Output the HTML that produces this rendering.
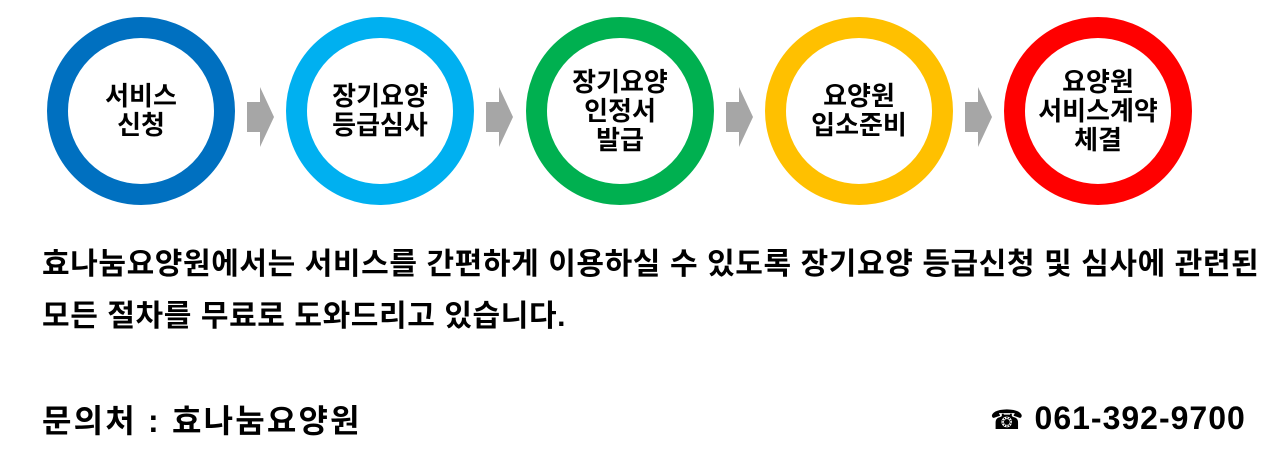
<!DOCTYPE html>
<html><head><meta charset="utf-8"><style>
body{margin:0;width:1286px;height:471px;background:#fff;position:relative;overflow:hidden;font-family:"Liberation Sans","Noto Sans CJK KR",sans-serif;font-weight:bold;color:#000}
.c{position:absolute;top:17px;width:146px;height:146px;border:21px solid;border-radius:50%;display:flex;align-items:center;justify-content:center;text-align:center;font-size:26px;line-height:29px;box-sizing:content-box}
.a{position:absolute;top:87px;width:27px;height:60px}
.t{position:absolute;left:42px;font-size:30px;letter-spacing:0.6px;white-space:nowrap;line-height:36px}
</style></head><body>
<div class="c" style="left:47px;border-color:#0070c0">서비스<br>신청</div>
<div class="c" style="left:286px;border-color:#00b0f0">장기요양<br>등급심사</div>
<div class="c" style="left:526px;border-color:#00b050">장기요양<br>인정서<br>발급</div>
<div class="c" style="left:765px;border-color:#ffc000">요양원<br>입소준비</div>
<div class="c" style="left:1004px;border-color:#ff0000">요양원<br>서비스계약<br>체결</div>
<svg class="a" style="left:247px" viewBox="0 0 27 60"><polygon points="0,15 13,15 13,0 27,30 13,60 13,45 0,45" fill="#a6a6a6"/></svg>
<svg class="a" style="left:486px" viewBox="0 0 27 60"><polygon points="0,15 13,15 13,0 27,30 13,60 13,45 0,45" fill="#a6a6a6"/></svg>
<svg class="a" style="left:726px" viewBox="0 0 27 60"><polygon points="0,15 13,15 13,0 27,30 13,60 13,45 0,45" fill="#a6a6a6"/></svg>
<svg class="a" style="left:965px" viewBox="0 0 27 60"><polygon points="0,15 13,15 13,0 27,30 13,60 13,45 0,45" fill="#a6a6a6"/></svg>
<div class="t" style="top:247px">효나눔요양원에서는 서비스를 간편하게 이용하실 수 있도록 장기요양 등급신청 및 심사에 관련된</div>
<div class="t" style="top:299px">모든 절차를 무료로 도와드리고 있습니다.</div>
<div class="t" style="top:403px;font-size:32px;letter-spacing:2.2px">문의처 : 효나눔요양원</div>
<div style="position:absolute;left:990px;top:400px;font-size:32px;white-space:nowrap;letter-spacing:1px"><span style="font-family:'DejaVu Sans',sans-serif;font-size:27px">☎</span> 061-392-9700</div>
</body></html>
